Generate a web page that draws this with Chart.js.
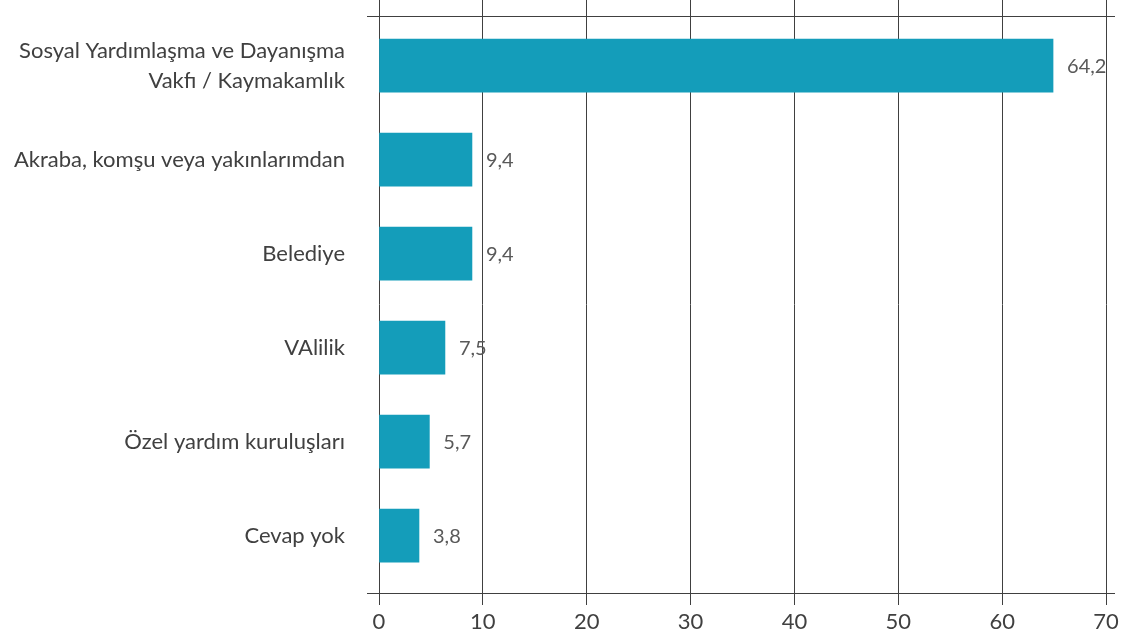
<!DOCTYPE html>
<html>
<head>
<meta charset="utf-8">
<script src="https://cdn.jsdelivr.net/npm/chart.js@4"></script>
<style>
  html, body { margin: 0; padding: 0; background: #ffffff; }
  #wrap { width: 1121px; height: 640px; position: relative; }
</style>
</head>
<body>
<div id="wrap"><canvas id="c" width="1121" height="640"></canvas></div>
<script>
const categories = [
  ["Sosyal Yardımlaşma ve Dayanışma", "Vakfı / Kaymakamlık"],
  "Akraba, komşu veya yakınlarımdan",
  "Belediye",
  "VAlilik",
  "Özel yardım kuruluşları",
  "Cevap yok"
];
const barValues = [64.9, 8.95, 8.95, 6.35, 4.85, 3.85];
const valueLabels = ["64,2", "9,4", "9,4", "7,5", "5,7", "3,8"];
const xTickValues = [0, 10, 20, 30, 40, 50, 60, 70];

const AXIS = '#404040';
const BAR = '#149DBA';
const FONT = 'Lato';
const CLEAR = 'rgba(0,0,0,0)';
const Y_MIN = -0.528;
const Y_MAX = 5.61;
const X_MAX = 70.77;

const valueLabelPlugin = {
  id: 'valueLabels',
  afterDatasetsDraw(chart) {
    const ctx = chart.ctx;
    const meta = chart.getDatasetMeta(0);
    ctx.save();
    ctx.font = '20px ' + FONT;
    ctx.fillStyle = '#595959';
    ctx.textAlign = 'left';
    ctx.textBaseline = 'middle';
    meta.data.forEach((bar, i) => {
      ctx.fillText(valueLabels[i], bar.x + 14, bar.y + 1);
    });
    ctx.restore();
  }
};

// y ticks: the two band edges plus one tick per category
const edgeOnly = (c) => (c.index === 0 || c.index === categories.length + 1) ? AXIS : CLEAR;

new Chart(document.getElementById('c'), {
  type: 'bar',
  data: {
    datasets: [{
      data: barValues.map((v, i) => ({ x: v, y: i })),
      backgroundColor: BAR,
      borderWidth: 0,
      barThickness: 53
    }]
  },
  options: {
    indexAxis: 'y',
    responsive: false,
    animation: false,
    layout: { autoPadding: false, padding: { left: 0, right: 7, top: 0, bottom: 0 } },
    plugins: { legend: { display: false }, tooltip: { enabled: false } },
    scales: {
      x: {
        type: 'linear',
        position: 'bottom',
        bounds: 'data',
        min: 0,
        max: X_MAX,
        afterBuildTicks(scale) { scale.ticks = xTickValues.map(v => ({ value: v })); },
        afterFit(scale) { scale.height = 47; scale.paddingLeft = 0; scale.paddingRight = 0; },
        grid: { color: AXIS, lineWidth: 1, tickLength: 12, drawTicks: true, tickColor: AXIS },
        border: { display: true, color: AXIS, width: 1 },
        ticks: { color: AXIS, font: { family: FONT, size: 22 }, padding: 4, maxRotation: 0, autoSkip: false }
      },
      xTop: {
        type: 'linear',
        position: 'top',
        axis: 'x',
        bounds: 'data',
        min: 0,
        max: X_MAX,
        afterBuildTicks(scale) { scale.ticks = xTickValues.map(v => ({ value: v })); },
        afterFit(scale) { scale.height = 16; scale.paddingLeft = 0; scale.paddingRight = 0; },
        grid: { drawOnChartArea: false, drawTicks: true, tickLength: 16, color: AXIS, tickColor: AXIS },
        border: { display: true, color: AXIS, width: 1 },
        ticks: { display: false }
      },
      y: {
        type: 'linear',
        position: 'left',
        reverse: true,
        offset: false,
        bounds: 'data',
        min: Y_MIN,
        max: Y_MAX,
        afterBuildTicks(scale) {
          const vals = [Y_MIN].concat(categories.map((c, i) => i), [Y_MAX]);
          scale.ticks = vals.map(v => ({ value: v }));
        },
        afterFit(scale) { scale.width = 379; scale.paddingTop = 0; scale.paddingBottom = 0; },
        grid: { offset: false, color: edgeOnly, tickColor: edgeOnly, tickLength: 12, drawTicks: true },
        border: { display: false },
        ticks: {
          color: AXIS,
          font: { family: FONT, size: 22, lineHeight: 1.36 },
          padding: 22,
          autoSkip: false,
          callback: (v) => (Number.isInteger(v) && categories[v] !== undefined) ? categories[v] : ''
        }
      }
    }
  },
  plugins: [valueLabelPlugin]
});
</script>
</body>
</html>
